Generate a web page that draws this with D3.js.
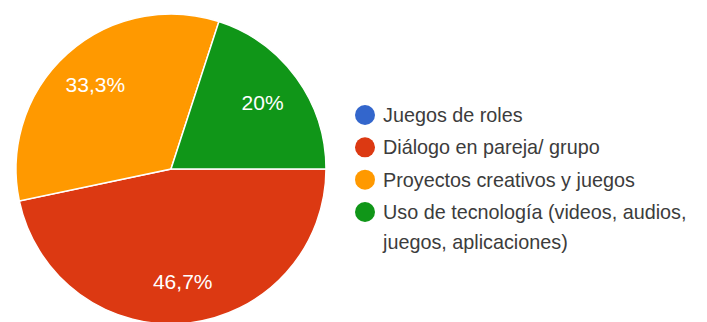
<!DOCTYPE html>
<html>
<head>
<meta charset="utf-8">
<script src="https://cdn.jsdelivr.net/npm/d3@7"></script>
<style>
  html, body { margin: 0; padding: 0; background: #fff; }
  svg { display: block; }
  text { font-family: Arial, "Liberation Sans", sans-serif; }
</style>
</head>
<body>
<svg id="chart" width="707" height="322"></svg>
<script>
// Survey answers and their share of responses (%)
const categories = [
  "Juegos de roles",
  "Diálogo en pareja/ grupo",
  "Proyectos creativos y juegos",
  "Uso de tecnología (videos, audios, juegos, aplicaciones)"
];
const values = [0, 46.7, 33.3, 20];
const valueLabels = ["0%", "46,7%", "33,3%", "20%"];
const colors = ["#3366cc", "#dc3912", "#ff9900", "#109618"];
// legend text, wrapped onto lines
const legendLines = [
  ["Juegos de roles"],
  ["Diálogo en pareja/ grupo"],
  ["Proyectos creativos y juegos"],
  ["Uso de tecnología (videos, audios,", "juegos, aplicaciones)"]
];

const svg = d3.select("#chart");
const cx = 171, cy = 169, radius = 155;

const pie = d3.pie()
  .value(d => d.value)
  .sort(null)
  .startAngle(Math.PI / 2)
  .endAngle(Math.PI / 2 + 2 * Math.PI);

const data = categories.map((c, i) => ({ name: c, value: values[i], label: valueLabels[i], color: colors[i] }));
const arcs = pie(data);

const arc = d3.arc().innerRadius(0).outerRadius(radius);
const labelArc = d3.arc().innerRadius(radius * 0.73).outerRadius(radius * 0.73);

const g = svg.append("g").attr("transform", `translate(${cx},${cy})`);

g.selectAll("path.slice")
  .data(arcs.filter(d => d.data.value > 0))
  .join("path")
  .attr("class", "slice")
  .attr("d", arc)
  .attr("fill", d => d.data.color)
  .attr("stroke", "#fff")
  .attr("stroke-width", 1.5);

g.selectAll("text.pct")
  .data(arcs.filter(d => d.data.value > 0))
  .join("text")
  .attr("class", "pct")
  .attr("transform", d => `translate(${labelArc.centroid(d)})`)
  .attr("text-anchor", "middle")
  .attr("dominant-baseline", "central")
  .attr("fill", "#fff")
  .attr("font-size", 21)
  .text(d => d.data.label);

// legend
const legend = svg.append("g");
const rowY = d3.scalePoint().domain(d3.range(categories.length)).range([115, 212]);
categories.forEach((c, i) => {
  const y = rowY(i);
  legend.append("circle")
    .attr("cx", 365)
    .attr("cy", y)
    .attr("r", 10)
    .attr("fill", colors[i]);
  const t = legend.append("text")
    .attr("x", 383)
    .attr("y", y)
    .attr("dominant-baseline", "central")
    .attr("fill", "#3c3c3c")
    .attr("font-size", 19.8);
  legendLines[i].forEach((line, k) => {
    t.append("tspan")
      .attr("x", 383)
      .attr("dy", k === 0 ? 0 : 30)
      .text(line);
  });
});
</script>
</body>
</html>
